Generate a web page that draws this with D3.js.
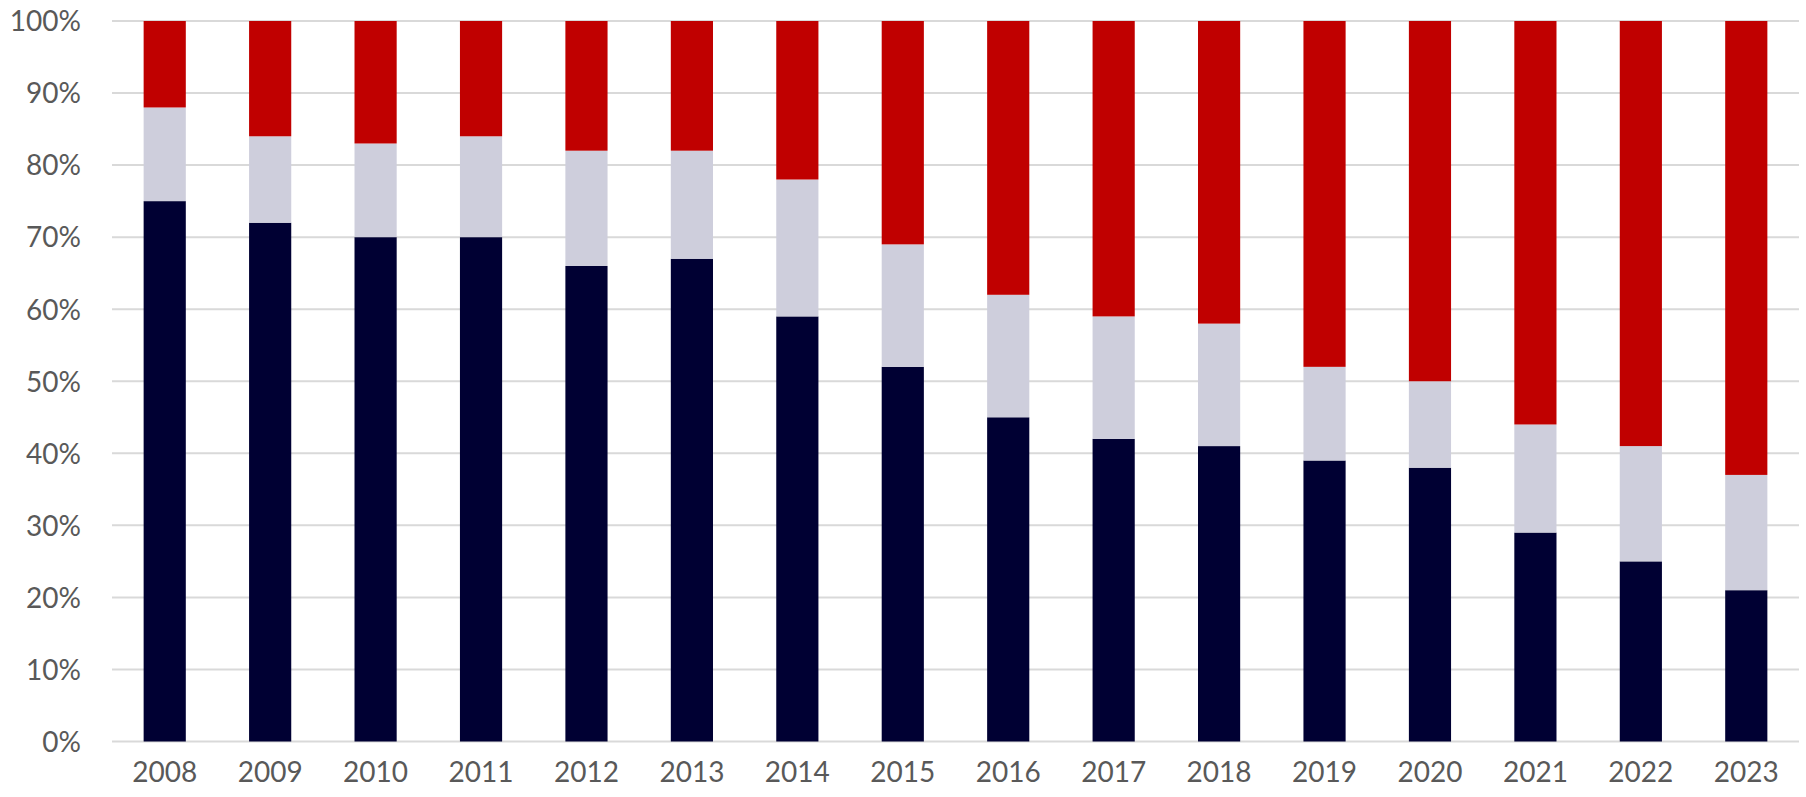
<!DOCTYPE html>
<html>
<head>
<meta charset="utf-8">
<script src="https://cdn.jsdelivr.net/npm/d3@7"></script>
<style>
  body { margin: 0; background: #fff; }
  .tick text { font-family: Lato, "Open Sans", sans-serif; font-size: 28px; fill: #595959; }
</style>
</head>
<body>
<div id="chart"></div>
<script>
const years = ['2008','2009','2010','2011','2012','2013','2014','2015','2016','2017','2018','2019','2020','2021','2022','2023'];
const navyVals = [75, 72, 70, 70, 66, 67, 59, 52, 45, 42, 41, 39, 38, 29, 25, 21];
const greyVals = [13, 12, 13, 14, 16, 15, 19, 17, 17, 17, 17, 13, 12, 15, 16, 16];
const redVals  = [12, 16, 17, 16, 18, 18, 22, 31, 38, 41, 42, 48, 50, 56, 59, 63];
const yTicks = [0, 10, 20, 30, 40, 50, 60, 70, 80, 90, 100];

const width = 1806, height = 797;
const margin = {top: 21, right: 7, bottom: 55.5, left: 112};

const svg = d3.select('#chart').append('svg')
  .attr('width', width).attr('height', height);

const x = d3.scaleBand().domain(years)
  .range([margin.left, width - margin.right])
  .paddingInner(0.6).paddingOuter(0.3);

const y = d3.scaleLinear().domain([0, 100])
  .range([height - margin.bottom, margin.top]);

// gridlines
svg.append('g').selectAll('line')
  .data(yTicks).join('line')
  .attr('x1', margin.left).attr('x2', width - margin.right)
  .attr('y1', d => y(d)).attr('y2', d => y(d))
  .attr('stroke', '#d9d9d9').attr('stroke-width', 2);

const rows = years.map((yr, i) => ({year: yr, navy: navyVals[i], grey: greyVals[i], red: redVals[i]}));
const stack = d3.stack().keys(['navy', 'grey', 'red'])(rows);
const colors = {navy: '#000033', grey: '#cecedc', red: '#c00000'};

svg.append('g').selectAll('g')
  .data(stack).join('g')
  .attr('fill', d => colors[d.key])
  .selectAll('rect')
  .data(d => d).join('rect')
  .attr('x', d => x(d.data.year))
  .attr('width', x.bandwidth())
  .attr('y', d => y(d[1]))
  .attr('height', d => y(d[0]) - y(d[1]));

// axes
const yAxis = svg.append('g')
  .attr('transform', `translate(${margin.left},0)`)
  .call(d3.axisLeft(y).tickValues(yTicks).tickFormat(d => d + '%').tickSize(0).tickPadding(31));
yAxis.select('.domain').remove();
yAxis.selectAll('text').attr('dy', '0.35em');

const xAxis = svg.append('g')
  .attr('transform', `translate(0,${height - margin.bottom})`)
  .call(d3.axisBottom(x).tickSize(0).tickPadding(21));
xAxis.select('.domain').remove();
</script>
</body>
</html>
